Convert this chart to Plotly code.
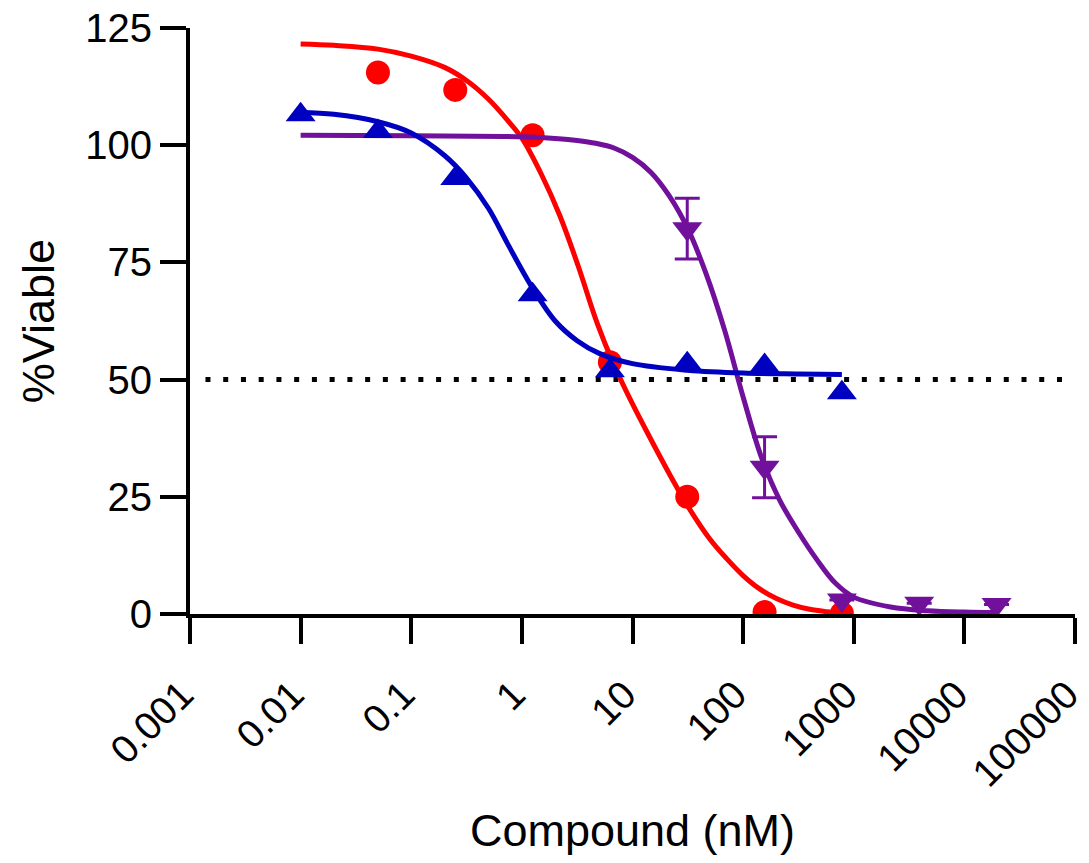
import plotly.graph_objects as go

# ---- data points (mean %viable) ----
red_x = [0.05, 0.25, 1.25, 6.25, 31.25, 156.25, 781.25]
red_y = [115.5, 111.8, 102.1, 53.7, 25.0, 0.4, 0.1]

blue_x = [0.01, 0.05, 0.25, 1.25, 6.25, 31.25, 156.25, 781.25]
blue_y = [106.5, 102.9, 92.9, 68.1, 51.9, 53.4, 53.0, 47.2]

purple_x = [31.25, 156.25, 781.25, 3906.25, 19531.25]
purple_y = [82.2, 31.3, 3.0, 2.3, 2.0]
purple_err = [6.5, 6.5, 0, 0, 0]

# ---- fitted curves ----
red_fit_x = [0.01, 0.02, 0.05, 0.1, 0.2, 0.316, 0.5, 0.75, 1.0, 1.5, 2.2, 3.2, 4.8, 6.7, 10, 15, 22, 32, 50, 71, 100, 142, 200, 283, 400, 570, 781]
red_fit_y = [121.6, 121.3, 120.5, 119.0, 116.6, 113.8, 109.8, 105.2, 101.5, 93.8, 85.0, 74.5, 62.0, 53.5, 44.8, 36.8, 29.5, 22.8, 16.0, 11.8, 8.2, 5.3, 3.3, 1.9, 1.0, 0.5, 0.2]

blue_fit_x = [0.01, 0.02, 0.05, 0.1, 0.2, 0.316, 0.5, 0.75, 1.25, 2.0, 3.16, 5.0, 10, 31.6, 100, 316, 781]
blue_fit_y = [107.0, 106.6, 105.0, 102.6, 97.8, 93.0, 86.5, 78.8, 69.5, 62.5, 58.3, 55.6, 53.4, 52.0, 51.4, 51.2, 51.1]

purple_fit_x = [0.01, 0.1, 1.0, 2.15, 3.16, 4.64, 6.81, 10, 14.7, 21.5, 31.6, 46.4, 68.1, 100, 147, 215, 316, 464, 681, 1000, 2150, 4640, 10000, 19531]
purple_fit_y = [102.1, 102.0, 101.8, 101.4, 101.0, 100.4, 99.4, 97.4, 94.2, 89.2, 82.2, 72.5, 60.5, 46.3, 33.3, 24.2, 17.5, 11.6, 6.6, 3.6, 1.5, 0.7, 0.4, 0.3]

# ---- reference line ----
ref_x = [0.00138, 76500]
ref_y = [50, 50]

# ---- axis ticks ----
x_tickvals = [0.001, 0.01, 0.1, 1, 10, 100, 1000, 10000, 100000]
x_ticktext = ["0.001", "0.01", "0.1", "1", "10", "100", "1000", "10000", "100000"]
y_tickvals = [0, 25, 50, 75, 100, 125]

RED = "#FF0000"
BLUE = "#0000C0"
PURPLE = "#71109A"
FONT = "Liberation Sans, Arial, sans-serif"

fig = go.Figure()

fig.add_trace(go.Scatter(x=ref_x, y=ref_y, mode="lines",
                         line=dict(color="black", width=5, dash="5px,12.74px"),
                         showlegend=False, hoverinfo="skip"))

fig.add_trace(go.Scatter(x=red_fit_x, y=red_fit_y, mode="lines",
                         line=dict(color=RED, width=5, shape="spline", smoothing=1.0),
                         showlegend=False))
fig.add_trace(go.Scatter(x=red_x, y=red_y, mode="markers",
                         marker=dict(symbol="circle", size=24, color=RED),
                         showlegend=False))

fig.add_trace(go.Scatter(x=purple_fit_x, y=purple_fit_y, mode="lines",
                         line=dict(color=PURPLE, width=5, shape="spline", smoothing=1.0),
                         showlegend=False))
fig.add_trace(go.Scatter(x=purple_x, y=purple_y, mode="markers",
                         marker=dict(symbol="triangle-down", size=26, color=PURPLE),
                         error_y=dict(type="data", array=purple_err, visible=True,
                                      color=PURPLE, thickness=3, width=12.5),
                         showlegend=False))

fig.add_trace(go.Scatter(x=blue_fit_x, y=blue_fit_y, mode="lines",
                         line=dict(color=BLUE, width=5, shape="spline", smoothing=1.0),
                         showlegend=False))
fig.add_trace(go.Scatter(x=blue_x, y=blue_y, mode="markers",
                         marker=dict(symbol="triangle-up", size=26, color=BLUE),
                         showlegend=False))

fig.update_layout(
    width=1089, height=863,
    margin=dict(l=190, r=14, t=28, b=249),
    paper_bgcolor="white", plot_bgcolor="white",
    font=dict(family=FONT, color="black", size=40),
    xaxis=dict(type="log", range=[-3, 5.00001], tickvals=x_tickvals, ticktext=x_ticktext,
               tickangle=-45, ticks="outside", ticklen=26, tickwidth=4, tickcolor="black",
               showline=True, linewidth=4, linecolor="black", showgrid=False, zeroline=False,
               automargin=False, ticklabelstandoff=12, ticklabelshift=-8,
               ticklabeloverflow="allow",
               tickfont=dict(size=39, family=FONT),
               title=dict(text="Compound (nM)", font=dict(size=45, family=FONT), standoff=22)),
    yaxis=dict(range=[0, 125], tickvals=y_tickvals, ticks="outside", ticklen=26, tickwidth=4,
               tickcolor="black", showline=True, linewidth=4, linecolor="black",
               showgrid=False, zeroline=False, automargin=False,
               tickfont=dict(size=40, family=FONT),
               title=dict(text="%Viable", font=dict(size=45, family=FONT), standoff=18)),
)

fig.write_html("out.html")
